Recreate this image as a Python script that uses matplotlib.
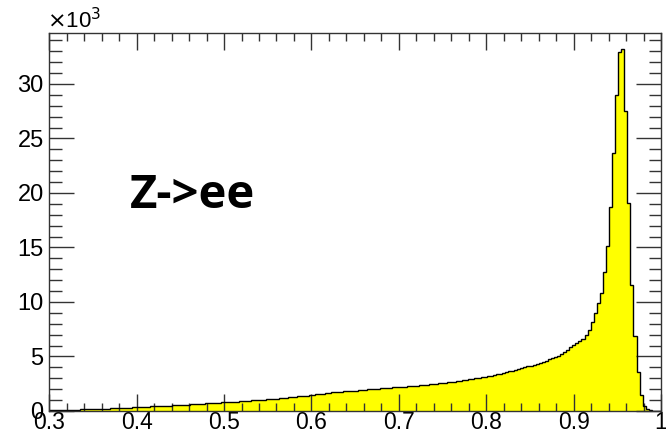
import matplotlib.pyplot as plt
import numpy as np
from matplotlib.ticker import MultipleLocator, FuncFormatter

# histogram: 200 bins from 0.3 to 1.0, counts in units of 10^3
x_lo, x_hi, n_bins = 0.3, 1.0, 200
counts_k = [
    0.06, 0.08, 0.09, 0.10, 0.10, 0.11, 0.11, 0.12, 0.12, 0.13,
    0.14, 0.16, 0.15, 0.16, 0.18, 0.18, 0.19, 0.21, 0.21, 0.22,
    0.23, 0.25, 0.26, 0.27, 0.29, 0.30, 0.31, 0.33, 0.35, 0.36,
    0.37, 0.39, 0.40, 0.42, 0.43, 0.44, 0.46, 0.47, 0.48, 0.50,
    0.52, 0.53, 0.54, 0.57, 0.57, 0.59, 0.61, 0.62, 0.64, 0.66,
    0.67, 0.70, 0.70, 0.72, 0.75, 0.76, 0.78, 0.80, 0.81, 0.83,
    0.86, 0.87, 0.89, 0.92, 0.93, 0.95, 0.98, 0.99, 1.01, 1.04,
    1.05, 1.07, 1.11, 1.12, 1.14, 1.18, 1.19, 1.22, 1.25, 1.27,
    1.30, 1.34, 1.36, 1.38, 1.42, 1.45, 1.48, 1.53, 1.56, 1.60,
    1.63, 1.68, 1.70, 1.73, 1.76, 1.77, 1.80, 1.81, 1.84, 1.86,
    1.88, 1.92, 1.93, 1.95, 1.99, 2.00, 2.02, 2.06, 2.07, 2.10,
    2.13, 2.14, 2.16, 2.18, 2.19, 2.22, 2.24, 2.26, 2.29, 2.31,
    2.33, 2.37, 2.39, 2.41, 2.45, 2.47, 2.50, 2.54, 2.56, 2.59,
    2.63, 2.66, 2.69, 2.74, 2.77, 2.81, 2.86, 2.89, 2.94, 2.99,
    3.03, 3.09, 3.13, 3.18, 3.25, 3.30, 3.36, 3.43, 3.49, 3.56,
    3.64, 3.70, 3.78, 3.87, 3.94, 4.02, 4.09, 4.16, 4.26, 4.34,
    4.42, 4.53, 4.62, 4.74, 4.85, 4.97, 5.09, 5.25, 5.40, 5.62,
    5.85, 6.06, 6.25, 6.46, 6.65, 6.95, 7.40, 8.15, 8.95, 9.90,
    10.8, 12.75, 15.1, 18.75, 23.7, 29.0, 32.9, 33.2, 27.5, 19.05,
    11.6, 6.9, 3.6, 1.47, 0.46, 0.15, 0.05, 0.02, 0.01, 0.0,
]
x_ticks = [0.3, 0.4, 0.5, 0.6, 0.7, 0.8, 0.9, 1.0]
y_ticks = [0, 5, 10, 15, 20, 25, 30]
label = "Z->ee"

edges = np.linspace(x_lo, x_hi, n_bins + 1)

fig = plt.figure(figsize=(6.66, 4.34), dpi=100)
ax = fig.add_axes([0.074, 0.053, 0.9185, 0.871])

ax.stairs(counts_k, edges, fill=True, color='#ffff00', zorder=1)
ax.stairs(counts_k, edges, color='black', lw=1.0, zorder=2)

ax.set_xlim(x_lo, x_hi)
ax.set_ylim(0, 34.68)

ax.set_xticks(x_ticks)
ax.set_yticks(y_ticks)
ax.xaxis.set_minor_locator(MultipleLocator(0.02))
ax.yaxis.set_minor_locator(MultipleLocator(1))
ax.xaxis.set_major_formatter(FuncFormatter(lambda v, p: '%g' % v))

ax.tick_params(which='both', direction='in', top=True, right=True,
               color='#333333', width=1)
ax.tick_params(axis='x', which='major', length=12, labelsize=16.5, pad=0)
ax.tick_params(axis='x', which='minor', length=6)
ax.tick_params(axis='y', which='major', length=18, labelsize=17, pad=4)
ax.tick_params(axis='y', which='minor', length=9)
for lab in ax.get_xticklabels() + ax.get_yticklabels():
    lab.set_fontfamily('Liberation Sans')

for s in ax.spines.values():
    s.set_color('#333333')
    s.set_linewidth(1)

fig.text(0.070, 0.924, r'$\times$10$^{3}$', fontsize=16,
         family='Liberation Sans', ha='left', va='bottom')

ax.text(0.392, 19.8, label, fontsize=34, fontweight='bold',
        family='Open Sans', ha='left', va='center')

fig.savefig('out.png', dpi=100)
